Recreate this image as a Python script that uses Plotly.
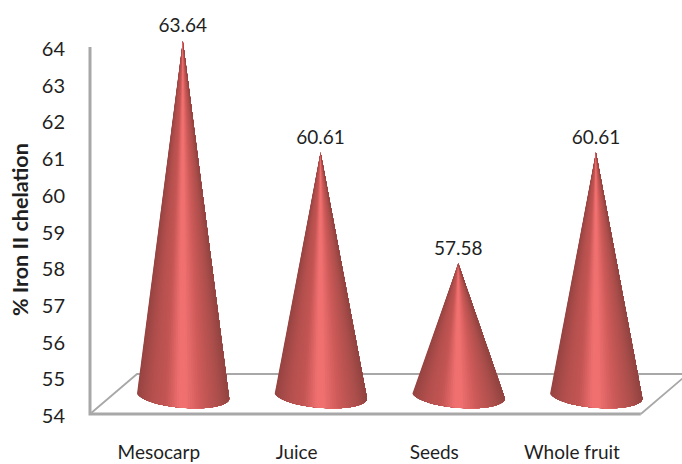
import numpy as np
import plotly.graph_objects as go

# Chart data
categories = ["Mesocarp", "Juice", "Seeds", "Whole fruit"]
chelation = [63.64, 60.61, 57.58, 60.61]
value_ticks = [54, 55, 56, 57, 58, 59, 60, 61, 62, 63, 64]
value_labels = ["63.64", "60.61", "57.58", "60.61"]

# Window and plot-area geometry
WIDTH, HEIGHT = 682, 464
PX_PER_CAT = 137.7
PX_PER_UNIT = 36.7
AXIS_LEFT = 90
SCALE_BOTTOM = 416     # pixel row of value 54 on the tick scale
WALL_LIFT = 2          # the drawn floor sits this many pixels above the tick scale
PLOT_LEFT = 86
PLOT_BOTTOM = 420

# Pseudo-3D floor depth and cone proportions, in pixels
FLOOR_DX, FLOOR_DY = 47, 40
CONE_DX, CONE_DY = 24, 21
BASE_A, BASE_B = 46.5, 13.0
BASE_TILT = np.radians(-4.0)
STRIPS = 64

# Shading across a cone, from left silhouette to right silhouette
shade_pos = [0.0, 0.15, 0.32, 0.46, 0.53, 0.70, 0.90, 1.0]
shade_rgb = [(150, 68, 66), (178, 79, 77), (196, 86, 84), (240, 112, 112),
             (240, 112, 112), (204, 90, 88), (170, 78, 75), (146, 68, 65)]
AXIS_GREY = "#a8a8a8"
TEXT = "#1f1f1f"
FONT = "Lato"


def shade(t):
    chan = [np.interp(t, shade_pos, [c[i] for c in shade_rgb]) for i in range(3)]
    return "rgb({:.0f},{:.0f},{:.0f})".format(*chan)


x_low = -0.5 - (AXIS_LEFT - PLOT_LEFT) / PX_PER_CAT
x_high = x_low + (WIDTH - PLOT_LEFT) / PX_PER_CAT
y_low = 54 - (PLOT_BOTTOM - SCALE_BOTTOM) / PX_PER_UNIT
y_high = 54 + SCALE_BOTTOM / PX_PER_UNIT

dx_cat = FLOOR_DX / PX_PER_CAT
dy_val = FLOOR_DY / PX_PER_UNIT
lift = WALL_LIFT / PX_PER_UNIT
front_l, front_r = -0.5, len(categories) - 0.5

fig = go.Figure()


def line(xs, ys, width):
    fig.add_trace(go.Scatter(x=xs, y=ys, mode="lines", hoverinfo="skip", showlegend=False,
                             line=dict(color=AXIS_GREY, width=width)))


# Floor outline and value axis
floor = 54 + lift
line([front_l, front_l + dx_cat, front_r + dx_cat, front_r],
     [floor, floor + dy_val, floor + dy_val, floor], 1.8)
line([front_l, front_l, front_r], [64 + lift, floor, floor], 3)

# Each cone is painted as a stack of overlapping fans from the apex, left to right,
# so neighbouring shades meet without seams
cone_dx = CONE_DX / PX_PER_CAT
cone_dy = CONE_DY / PX_PER_UNIT
theta = np.linspace(np.pi + 0.09, 2 * np.pi + 0.09, STRIPS + 1)
ex = BASE_A * np.cos(theta) * np.cos(BASE_TILT) + BASE_B * np.sin(theta) * np.sin(BASE_TILT)
ey = BASE_A * np.cos(theta) * np.sin(BASE_TILT) + BASE_B * np.sin(theta) * np.cos(BASE_TILT)
across = (ex - ex.min()) / (ex.max() - ex.min())

for i, value in enumerate(chelation):
    cx = i + cone_dx
    cy = 54 + cone_dy
    apex_x, apex_y = cx, value + cone_dy
    bx = cx + ex / PX_PER_CAT
    by = cy + ey / PX_PER_UNIT
    for k in range(STRIPS):
        colour = shade((across[k] + across[k + 1]) / 2)
        fig.add_trace(go.Scatter(
            x=[apex_x] + list(bx[k:]) + [apex_x],
            y=[apex_y] + list(by[k:]) + [apex_y],
            mode="lines", fill="toself", fillcolor=colour,
            line=dict(color=colour, width=0),
            hoverinfo="skip", showlegend=False,
        ))

# Value labels above the apexes
fig.add_trace(go.Scatter(
    x=[i + cone_dx for i in range(len(categories))],
    y=[v + cone_dy + 4 / PX_PER_UNIT for v in chelation],
    mode="text", text=value_labels, textposition="top center",
    textfont=dict(family=FONT, size=19, color=TEXT),
    showlegend=False, cliponaxis=False,
))

fig.update_layout(
    width=WIDTH, height=HEIGHT,
    margin=dict(l=PLOT_LEFT, r=0, t=0, b=HEIGHT - PLOT_BOTTOM, autoexpand=False),
    paper_bgcolor="white", plot_bgcolor="white",
    font=dict(family=FONT, size=18, color=TEXT),
    xaxis=dict(
        range=[x_low, x_high], tickmode="array",
        tickvals=list(range(len(categories))), ticktext=categories,
        ticks="outside", ticklen=15, tickcolor="rgba(0,0,0,0)",
        showgrid=False, zeroline=False, showline=False,
        tickfont=dict(family=FONT, size=19, color=TEXT),
    ),
    yaxis=dict(
        range=[y_low, y_high], tickmode="array", tickvals=value_ticks,
        ticks="outside", ticklen=16, tickcolor="rgba(0,0,0,0)",
        showgrid=False, zeroline=False, showline=False,
        tickfont=dict(family=FONT, size=20, color=TEXT),
    ),
    annotations=[dict(
        text="<b>% Iron II chelation</b>", textangle=-90, showarrow=False,
        xref="paper", yref="paper", xanchor="center", yanchor="middle",
        x=-(PLOT_LEFT - 20) / (WIDTH - PLOT_LEFT),
        y=(PLOT_BOTTOM - 230) / PLOT_BOTTOM,
        font=dict(family=FONT, size=21.5, color=TEXT),
    )],
)

fig.write_html("out.html")
